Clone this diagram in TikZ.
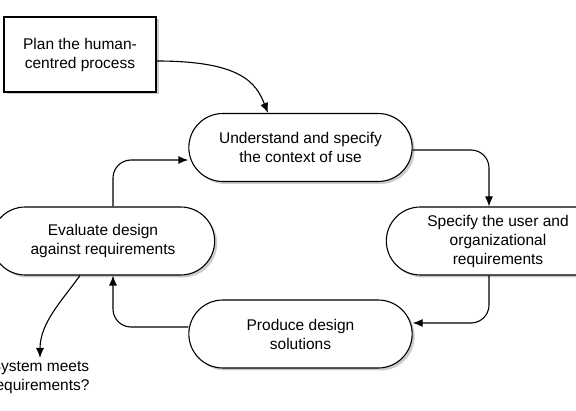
\documentclass[tikz,border=0pt]{standalone}
\usepackage{fontspec}
\setmainfont{Liberation Sans}
\usetikzlibrary{shapes.misc, shadows, arrows.meta}

\begin{document}
\begin{tikzpicture}[x = 1pt, y = -1pt,
		font            = \fontsize{15.5}{19}\selectfont,
		blockP/.style   = {draw,
			rectangle,
			align          = center,
			fill           = white,
			line width     = 1.1pt,
			minimum width  = 152pt,
			minimum height = 75pt,
			drop shadow    = {shadow xshift = 2.5pt, shadow yshift = -2.5pt, fill = black!40}},
		blockS/.style   = {draw,
			rounded rectangle,
			align          = center,
			fill           = white,
			line width     = 1.1pt,
			minimum width  = 230pt,
			minimum height = 68pt,
			drop shadow    = {shadow xshift = 2.5pt, shadow yshift = -2.5pt, fill = black!40}},
		flow/.style     = {-{Latex[length = 10pt, width = 8pt]},
			line width     = 1.1pt,
			rounded corners = 18pt}]
		
		\useasboundingbox (0,0) rectangle (576,411);
		
		\node[blockP] (Plan) at (80,54.5)
		{ Plan the human-\\ centred process };
		
		\node[blockS] (Context) at (300.5,147.5)
		{ Understand and specify\\ the context of use };
		
		\node[blockS] (Reqs) at (498,241)
		{ Specify the user and\\ organizational\\ requirements };
		
		\node[blockS] (Design) at (300.5,334)
		{ Produce design\\ solutions };
		
		\node[blockS] (Eval) at (103,241)
		{ Evaluate design\\ against requirements };
		
		\node[align = center, inner sep = 0pt, anchor = north] (Meets) at (40,360)
		{ System meets\\ requirements? }; % plain text, no border
		
		\draw[flow] ([yshift=-6.5pt]Plan.east) .. controls +(85,0) and +(-12,-30) .. ([xshift=-32.5pt]Context.north);
		\draw[flow] ([yshift=-2.5pt]Context.east) -| ([xshift=-9pt]Reqs.north);
		\draw[flow] ([xshift=-9pt]Reqs.south) |- ([yshift=11pt]Design.east);
		\draw[flow] ([yshift=7pt]Design.west) -| ([xshift=10pt]Eval.south);
		\draw[flow] ([xshift=10pt]Eval.north) |- ([yshift=-12.5pt]Context.west);
		\draw[flow] ([xshift=-23pt]Eval.south) .. controls +(-18,25) and +(0,-35) .. ([yshift=2pt]Meets.north);
		
	\end{tikzpicture}
\end{document}
